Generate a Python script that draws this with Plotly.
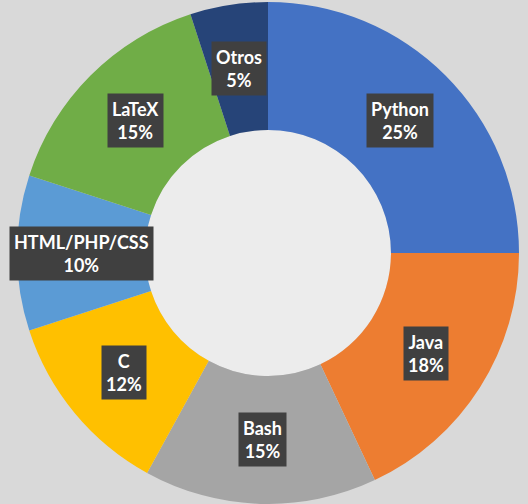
import math
import plotly.graph_objects as go

labels = ["Python", "Java", "Bash", "C", "HTML/PHP/CSS", "LaTeX", "Otros"]
values = [25, 18, 15, 12, 10, 15, 5]
colors = ["#4472C4", "#ED7D31", "#A5A5A5", "#FFC000", "#5B9BD5", "#70AD47", "#264478"]

W, H = 528, 504
cx, cy, R = 268, 253, 251
hole = 0.49

fig = go.Figure(go.Pie(
    labels=labels, values=values, sort=False, direction="clockwise", rotation=0,
    hole=hole, marker=dict(colors=colors, line=dict(width=0)),
    textinfo="none", hoverinfo="label+percent", showlegend=False,
    domain=dict(x=[(cx - R) / W, (cx + R) / W], y=[(H - cy - R) / H, (H - cy + R) / H]),
))

total = sum(values)
cum = 0
rmid = R * (1 + hole) / 2
annotations = []
for lab, v in zip(labels, values):
    mid = (cum + v / 2) / total * 2 * math.pi
    cum += v
    px = cx + rmid * math.sin(mid)
    py = cy - rmid * math.cos(mid)
    annotations.append(dict(
        x=px / W, y=1 - py / H, xref="paper", yref="paper",
        xanchor="center", yanchor="middle",
        text=f"<b>{lab}</b><br><b>{round(v / total * 100)}%</b>",
        showarrow=False, font=dict(family="Lato", size=18, color="white"),
        bgcolor="#404040", borderpad=4, align="center",
    ))

rh = R * hole
fig.update_layout(
    width=W, height=H, margin=dict(l=0, r=0, t=0, b=0),
    paper_bgcolor="#d9d9d9",
    annotations=annotations,
    shapes=[dict(type="circle", xref="paper", yref="paper", layer="below",
                 x0=(cx - rh) / W, x1=(cx + rh) / W,
                 y0=1 - (cy + rh) / H, y1=1 - (cy - rh) / H,
                 fillcolor="#ececec", line=dict(width=0))],
)

fig.write_html("out.html")
